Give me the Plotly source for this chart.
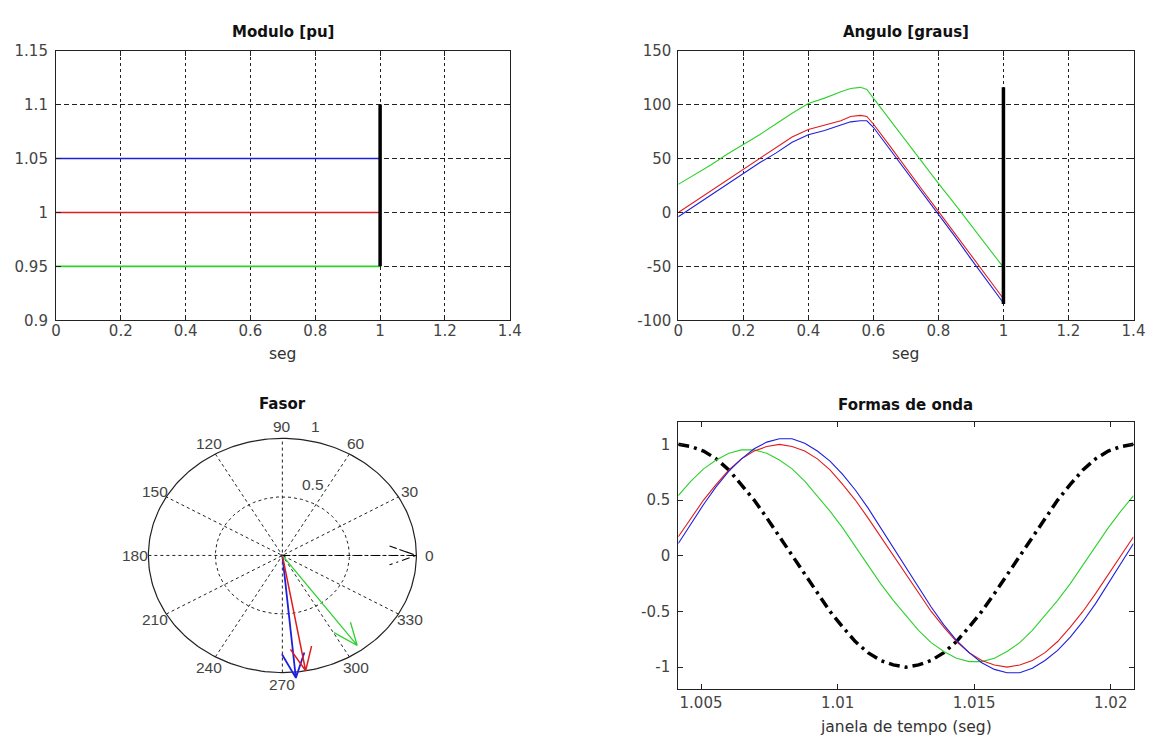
import numpy as np
import plotly.graph_objects as go

# ---------------- Data ----------------
# Modulo [pu]
mod_t = [0, 1]
mod_blue = [1.05, 1.05]
mod_red = [1.0, 1.0]
mod_green = [0.95, 0.95]
mod_bar_t = [1, 1]
mod_bar = [0.95, 1.1]

# Angulo [graus]
ang_t = [0, 0.05, 0.1, 0.15, 0.2, 0.25, 0.3, 0.35, 0.4, 0.45, 0.5, 0.53, 0.56, 0.58,
         0.6, 0.65, 0.7, 0.75, 0.8, 0.85, 0.9, 0.95, 1.0]
ang_blue = [-4, 6, 16, 26, 36, 46, 55, 65, 72, 76, 81, 84, 85, 85,
            79, 59, 38, 18, -2, -22, -43, -63, -84]
ang_red = [0, 10, 20, 30, 40, 50, 60, 70, 77, 81, 85, 89, 90, 89,
           82, 62, 41, 21, 1, -19, -39, -59, -80]
ang_green = [26, 35, 44, 54, 63, 72, 82, 92, 101, 106, 112, 115, 116, 114,
             106, 86, 66, 47, 27, 8, -12, -31, -51]
ang_bar_t = [1, 1]
ang_bar = [-85, 116]

# Fasor (magnitude, angle in degrees): blue, red, green, reference
fasor_mag = [1.05, 1.0, 0.95, 1.0]
fasor_ang = [-84.5, -80, -54, 0]
polar_rticks = [0.5, 1]
polar_angles = [0, 30, 60, 90, 120, 150, 180, 210, 240, 270, 300, 330]

# Formas de onda
wave_t = [1.004167, 1.004630, 1.005093, 1.005556, 1.006019, 1.006481, 1.006944,
          1.007407, 1.007870, 1.008333, 1.008796, 1.009259, 1.009722, 1.010185,
          1.010648, 1.011111, 1.011574, 1.012037, 1.012500, 1.012963, 1.013426,
          1.013889, 1.014352, 1.014815, 1.015278, 1.015741, 1.016204, 1.016667,
          1.017130, 1.017593, 1.018056, 1.018519, 1.018981, 1.019444, 1.019907,
          1.020370, 1.020833]
wave_ref = [1, .98, .94, .87, .77, .64, .5, .34, .17, 0, -.17, -.34, -.5, -.64, -.77,
            -.87, -.94, -.98, -1, -.98, -.94, -.87, -.77, -.64, -.5, -.34, -.17, 0,
            .17, .34, .5, .64, .77, .87, .94, .98, 1]
wave_blue = [.11, .29, .46, .62, .76, .87, .96, 1.02, 1.05, 1.05, 1.01, .94, .85, .73,
             .59, .43, .25, .07, -.11, -.29, -.46, -.62, -.76, -.87, -.96, -1.02,
             -1.05, -1.05, -1.01, -.94, -.85, -.73, -.59, -.43, -.25, -.07, .11]
wave_red = [.17, .34, .5, .64, .77, .87, .94, .98, 1, .98, .94, .87, .77, .64, .5,
            .34, .17, 0, -.17, -.34, -.5, -.64, -.77, -.87, -.94, -.98, -1, -.98,
            -.94, -.87, -.77, -.64, -.5, -.34, -.17, 0, .17]
wave_green = [.54, .67, .78, .86, .92, .95, .95, .92, .86, .78, .67, .54, .40, .25,
              .08, -.08, -.25, -.40, -.54, -.67, -.78, -.86, -.92, -.95, -.95, -.92,
              -.86, -.78, -.67, -.54, -.40, -.25, -.08, .08, .25, .40, .54]

# ticks
mod_xticks = [0, 0.2, 0.4, 0.6, 0.8, 1, 1.2, 1.4]
mod_yticks = [0.9, 0.95, 1, 1.05, 1.1, 1.15]
ang_yticks = [-100, -50, 0, 50, 100, 150]
ang_yticktext = ["-100", "-50", "0", "50", "100", "150"]
wave_xticks = [1.005, 1.01, 1.015, 1.02]
wave_yticks = [-1, -0.5, 0, 0.5, 1]
wave_yticktext = ["-1", "-0.5", "0", "0.5", "1"]

BLUE = "#1f1fdd"
RED = "#e01c1c"
GREEN = "#2ed12e"
BLACK = "#000000"

W, H = 1159, 744


def px(x):
    return x / W


def py(y):
    return 1 - y / H


fig = go.Figure()

# ---- Modulo ----
for yv, c in [(mod_blue, BLUE), (mod_red, RED), (mod_green, GREEN)]:
    fig.add_trace(go.Scatter(x=mod_t, y=yv, mode="lines", line=dict(color=c, width=1.6),
                             xaxis="x", yaxis="y"))
fig.add_trace(go.Scatter(x=mod_bar_t, y=mod_bar, mode="lines", line=dict(color=BLACK, width=3.5),
                         xaxis="x", yaxis="y"))

# ---- Angulo ----
for yv, c in [(ang_green, GREEN), (ang_red, RED), (ang_blue, BLUE)]:
    fig.add_trace(go.Scatter(x=ang_t, y=yv, mode="lines", line=dict(color=c, width=1.1),
                             xaxis="x2", yaxis="y2"))
fig.add_trace(go.Scatter(x=ang_bar_t, y=ang_bar, mode="lines", line=dict(color=BLACK, width=3.5),
                         xaxis="x2", yaxis="y2"))

# ---- Fasor (Matlab-style polar drawn in a cartesian frame) ----
GRIDC = "#222222"
th = np.linspace(0, 2 * np.pi, 241)
rmax = max(polar_rticks)
for r in polar_rticks:
    dash = "solid" if r == rmax else "3px,3px"
    fig.add_trace(go.Scatter(x=r * np.cos(th), y=r * np.sin(th), mode="lines",
                             line=dict(color=GRIDC, width=1.2 if r == rmax else 1, dash=dash),
                             xaxis="x3", yaxis="y3"))
for a in polar_angles:
    if a >= 180:
        continue
    ar = np.deg2rad(a)
    fig.add_trace(go.Scatter(x=[-rmax * np.cos(ar), rmax * np.cos(ar)],
                             y=[-rmax * np.sin(ar), rmax * np.sin(ar)], mode="lines",
                             line=dict(color=GRIDC, width=1, dash="3px,3px"),
                             xaxis="x3", yaxis="y3"))

fasor_colors = [BLUE, RED, GREEN, BLACK]
fasor_dash = ["solid", "solid", "solid", "8px,4px,2px,4px"]
fasor_width = [1.8, 1.5, 1.3, 1.1]
arrow_shape = np.array([0, 1, 0.8 + 0.08j, 1, 0.8 - 0.08j])
for m, a, c, d, w in zip(fasor_mag, fasor_ang, fasor_colors, fasor_dash, fasor_width):
    z = m * np.exp(1j * np.deg2rad(a))
    pts = arrow_shape * z
    fig.add_trace(go.Scatter(x=pts.real, y=pts.imag, mode="lines",
                             line=dict(color=c, width=w, dash=d),
                             xaxis="x3", yaxis="y3"))

# ---- Formas de onda ----
fig.add_trace(go.Scatter(x=wave_t, y=wave_ref, mode="lines",
                         line=dict(color=BLACK, width=3.5, dash="11px,5px,3px,5px"),
                         xaxis="x4", yaxis="y4"))
for yv, c in [(wave_green, GREEN), (wave_red, RED), (wave_blue, BLUE)]:
    fig.add_trace(go.Scatter(x=wave_t, y=yv, mode="lines", line=dict(color=c, width=1.1),
                             xaxis="x4", yaxis="y4"))

# ---------------- Axes ----------------
TICKFONT = dict(family="DejaVu Sans", size=15, color="#444444")
common = dict(showline=True, linecolor="#222222", linewidth=1, mirror="ticks",
              ticks="inside", ticklen=5, tickcolor="#222222", zeroline=False,
              tickfont=TICKFONT, gridcolor="#222222", gridwidth=1)

# pixel frames
TL = (51.7, 512.3, 42.7, 319.0)
TR = (683.3, 1145.3, 42.7, 319.0)
BR = (683.3, 1145.3, 423.3, 697.3)
PC = (281.5, 560.0, 136.0, 120.0)  # polar center and radii in px
PR = 1.25

fig.update_layout(
    width=W, height=H, margin=dict(l=0, r=0, t=0, b=0),
    paper_bgcolor="white", plot_bgcolor="white", showlegend=False,
    font=dict(family="DejaVu Sans", color="#222222"),
    xaxis=dict(domain=[px(TL[0]), px(TL[1])], range=[0, 1.4], tickvals=mod_xticks,
               showgrid=True, griddash="3px,3px", ticklabelstandoff=-3, anchor="y", **common),
    yaxis=dict(domain=[py(TL[3]), py(TL[2])], range=[0.9, 1.15], tickvals=mod_yticks,
               showgrid=True, griddash="5px,3px", ticklabelstandoff=4, anchor="x", **common),
    xaxis2=dict(domain=[px(TR[0]), px(TR[1])], range=[0, 1.4], tickvals=mod_xticks,
                showgrid=True, griddash="3px,3px", ticklabelstandoff=-3, anchor="y2", **common),
    yaxis2=dict(domain=[py(TR[3]), py(TR[2])], range=[-100, 150], tickvals=ang_yticks,
                ticktext=ang_yticktext, showgrid=True, griddash="5px,3px",
                ticklabelstandoff=3, anchor="x2", **common),
    xaxis3=dict(domain=[px(PC[0] - PR * PC[2]), px(PC[0] + PR * PC[2])], range=[-PR, PR],
                visible=False, anchor="y3"),
    yaxis3=dict(domain=[py(PC[1] + PR * PC[3]), py(PC[1] - PR * PC[3])], range=[-PR, PR],
                visible=False, anchor="x3"),
    xaxis4=dict(domain=[px(BR[0]), px(BR[1])], range=[1.004167, 1.020833],
                tickvals=wave_xticks, showgrid=False, ticklabelstandoff=0, anchor="y4", **common),
    yaxis4=dict(domain=[py(BR[3]), py(BR[2])], range=[-1.2, 1.2], tickvals=wave_yticks,
                ticktext=wave_yticktext, showgrid=False, ticklabelstandoff=4, anchor="x4", **common),
)

# ---------------- Text ----------------
ann = []
TITLEFONT = dict(family="DejaVu Sans", size=15, color="#111111")
LABELFONT = dict(family="DejaVu Sans", size=15.5, color="#333333")


def add_text(text, x, y, font):
    ann.append(dict(text=text, x=px(x), y=py(y), xref="paper", yref="paper",
                    showarrow=False, xanchor="center", yanchor="middle", font=font))


add_text("<b>Modulo [pu]</b>", 282, 24, TITLEFONT)
add_text("<b>Angulo [graus]</b>", 914, 24, TITLEFONT)
add_text("<b>Fasor</b>", 282, 405, TITLEFONT)
add_text("<b>Formas de onda</b>", 914, 406, TITLEFONT)
add_text("seg", 282, 354, LABELFONT)
add_text("seg", 914, 354, LABELFONT)
add_text("janela de tempo (seg)", 914, 736, LABELFONT)

POLARFONT = dict(family="Liberation Sans", size=15.5, color="#444444")
for a in polar_angles:
    ar = np.deg2rad(a)
    ann.append(dict(text=str(a), x=1.1 * rmax * np.cos(ar), y=1.1 * rmax * np.sin(ar),
                    xref="x3", yref="y3", showarrow=False, xanchor="center",
                    yanchor="middle", font=POLARFONT))
for r in polar_rticks:
    rr = r + 0.5 / 20
    ann.append(dict(text=f"{r:g}", x=rr * np.cos(np.deg2rad(82)), y=rr * np.sin(np.deg2rad(82)),
                    xref="x3", yref="y3", showarrow=False, xanchor="left", yanchor="bottom",
                    xshift=8, font=POLARFONT))

fig.update_layout(annotations=ann)

fig.write_html("out.html")
